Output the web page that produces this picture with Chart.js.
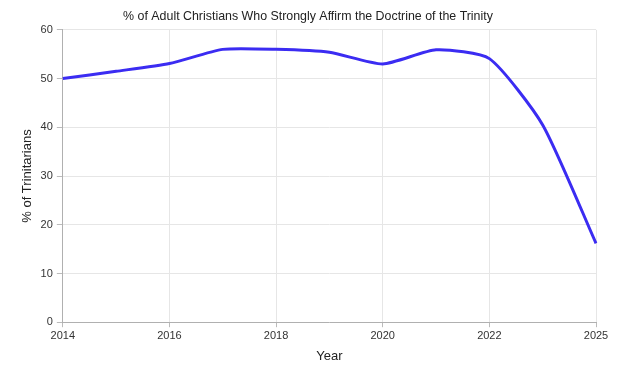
<!DOCTYPE html>
<html>
<head>
<meta charset="utf-8">
<script src="https://cdn.jsdelivr.net/npm/chart.js@4/dist/chart.umd.min.js"></script>
<style>
  html, body { margin: 0; padding: 0; background: #ffffff; }
  #wrap { width: 617px; height: 368px; position: relative; }
</style>
</head>
<body>
<div id="wrap"><canvas id="c" width="617" height="368"></canvas></div>
<script>
const years = ['2014','2015','2016','2017','2018','2019','2020','2021','2022','2023','2025'];
const trinitarians = [50, 51.5, 53.1, 56, 56, 55.4, 53, 55.9, 54.1, 40.5, 16.2];
const yTicks = [0, 10, 20, 30, 40, 50, 60];

const FONT = '"Liberation Sans", Arial, sans-serif';
const gridColor = '#e6e6e6';

new Chart(document.getElementById('c'), {
  type: 'line',
  data: {
    labels: years,
    datasets: [{
      label: '% of Trinitarians',
      data: trinitarians,
      borderColor: '#3b2cf2',
      backgroundColor: '#3b2cf2',
      borderWidth: 3,
      pointRadius: 0,
      tension: 0.2,
      fill: false
    }]
  },
  options: {
    responsive: false,
    animation: false,
    devicePixelRatio: 1,
    layout: { padding: { left: 20, right: 21, top: 2, bottom: 4 } },
    plugins: {
      legend: { display: false },
      tooltip: { enabled: false },
      title: {
        display: true,
        text: '% of Adult Christians Who Strongly Affirm the Doctrine of the Trinity',
        color: '#222222',
        font: { family: FONT, size: 12.4, weight: 'normal' },
        padding: { top: 7, bottom: 6 }
      }
    },
    scales: {
      x: {
        type: 'category',
        grid: { color: gridColor, tickLength: 5, tickColor: '#bbbbbb' },
        border: { color: '#b0b0b0' },
        ticks: {
          autoSkip: true,
          maxTicksLimit: 6,
          maxRotation: 0,
          color: '#333333',
          font: { family: FONT, size: 11 },
          padding: 2
        },
        title: {
          display: true,
          text: 'Year',
          color: '#222222',
          font: { family: FONT, size: 13 },
          padding: { top: 4, bottom: 0 }
        }
      },
      y: {
        min: 0,
        max: 60,
        afterBuildTicks: (axis) => { axis.ticks = yTicks.map(v => ({ value: v })); },
        grid: { color: gridColor, tickLength: 6, tickColor: '#bbbbbb' },
        border: { color: '#b0b0b0' },
        ticks: {
          color: '#333333',
          font: { family: FONT, size: 11 },
          padding: 4
        },
        title: {
          display: true,
          text: '% of Trinitarians',
          color: '#222222',
          font: { family: FONT, size: 13 },
          padding: { top: 0, bottom: 1 }
        }
      }
    }
  }
});
</script>
</body>
</html>
